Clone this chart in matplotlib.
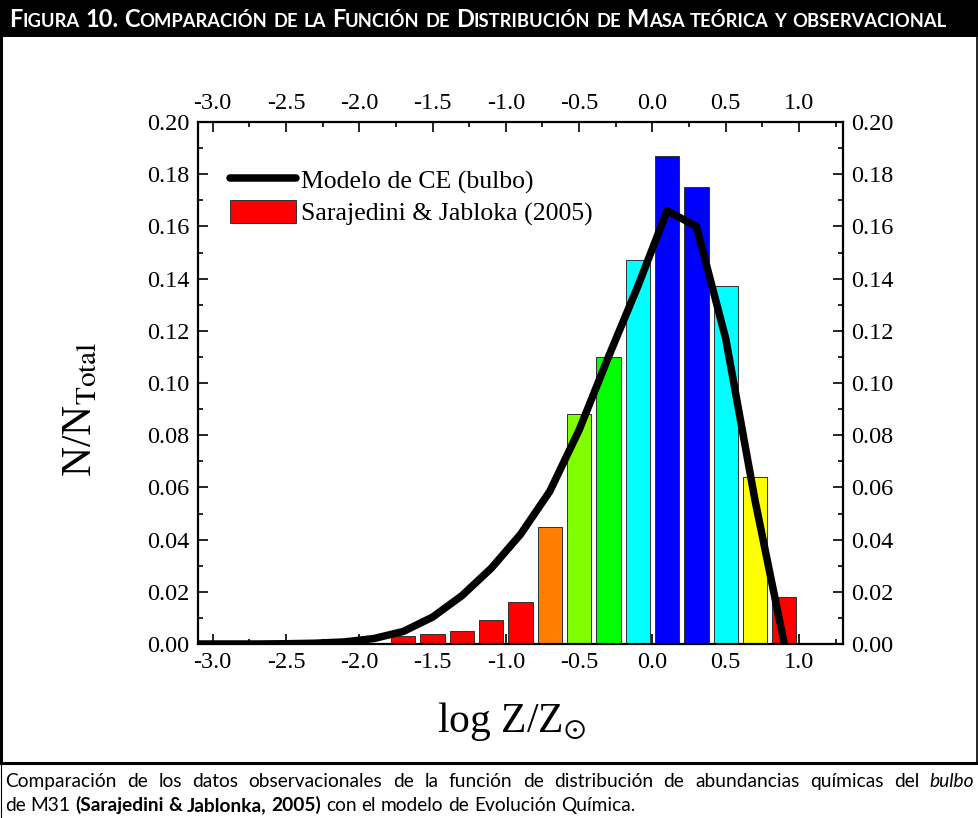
import matplotlib
matplotlib.use("Agg")
import matplotlib.pyplot as plt
from matplotlib.transforms import IdentityTransform
from matplotlib.lines import Line2D
from matplotlib.patches import Patch, Rectangle
from matplotlib.ticker import MultipleLocator, FormatStrFormatter

W, H, DPI = 979, 818, 100

# Observed metallicity distribution (Sarajedini & Jablonka 2005), 0.2 dex bins
bin_centers = [-1.7, -1.5, -1.3, -1.1, -0.9, -0.7, -0.5, -0.3, -0.1, 0.1, 0.3, 0.5, 0.7, 0.9]
obs_fraction = [0.0032, 0.0040, 0.0051, 0.0092, 0.0161, 0.0449, 0.0881,
                0.110, 0.147, 0.187, 0.175, 0.137, 0.064, 0.018]
bar_colors = ["#ff0000", "#ff0000", "#ff0000", "#ff0000", "#ff0000", "#ff8000",
              "#80ff00", "#00ff00", "#00ffff", "#0000ff", "#0000ff", "#00ffff",
              "#ffff00", "#ff0000"]

# Chemical evolution model for the bulge
model_logz = [-3.1, -2.9, -2.7, -2.5, -2.3, -2.1, -1.9, -1.7, -1.5, -1.3, -1.1,
              -0.9, -0.7, -0.5, -0.3, -0.1, 0.1, 0.3, 0.5, 0.7, 0.9]
model_fraction = [0.0, 0.0, 0.0, 0.0001, 0.0003, 0.0008, 0.0021, 0.0048, 0.0103,
                  0.0185, 0.0290, 0.0420, 0.0585, 0.0820, 0.1100, 0.1370, 0.1660,
                  0.1600, 0.1170, 0.0550, 0.0]

x_ticks = [-3.0, -2.5, -2.0, -1.5, -1.0, -0.5, 0.0, 0.5, 1.0]
y_ticks = [0.00, 0.02, 0.04, 0.06, 0.08, 0.10, 0.12, 0.14, 0.16, 0.18, 0.20]

header_text = ("Figura 10. Comparación de la Función de Distribución de Masa "
               "teórica y observacional")
caption_line1 = [("Comparación de los datos observacionales de la función de "
                  "distribución de abundancias químicas del ", "normal", "normal"),
                 ("bulbo", "normal", "italic")]
caption_line2 = [("de M31 ", "normal", "normal"),
                 ("(Sarajedini & Jablonka, 2005)", "bold", "normal"),
                 (" con el modelo de Evolución Química.", "normal", "normal")]

plt.rcParams["font.family"] = ["Liberation Serif", "DejaVu Serif"]
plt.rcParams["mathtext.fontset"] = "stix"

fig = plt.figure(figsize=(W / DPI, H / DPI), dpi=DPI)
fig.patch.set_facecolor("white")

# axes box in pixels: left 198, right 843, top 122, bottom 644
ax = fig.add_axes([198 / W, (H - 644) / H, (843 - 198) / W, (644 - 122) / H])

ax.bar(bin_centers, obs_fraction, width=0.165, color=bar_colors,
       edgecolor="#303030", linewidth=0.7, zorder=2)
ax.plot(model_logz, model_fraction, color="black", lw=5.4,
        solid_capstyle="round", solid_joinstyle="round", zorder=3)

ax.set_xlim(-3.1, 1.3)
ax.set_ylim(0.0, 0.20)
ax.set_xticks(x_ticks)
ax.set_yticks(y_ticks)
ax.xaxis.set_minor_locator(MultipleLocator(0.25))
ax.yaxis.set_minor_locator(MultipleLocator(0.01))
ax.xaxis.set_major_formatter(FormatStrFormatter("%.1f"))
ax.yaxis.set_major_formatter(FormatStrFormatter("%.2f"))
ax.tick_params(which="both", direction="in", top=True, right=True,
               labeltop=True, labelright=True, width=1.2, labelsize=17.5, pad=6)
ax.tick_params(which="major", length=7)
ax.tick_params(which="minor", length=3.5)
for sp in ax.spines.values():
    sp.set_linewidth(1.6)

ax.set_xlabel(r"log Z/Z$_{\odot}$", fontsize=30)
ax.xaxis.set_label_coords(0.487, -0.108, transform=ax.transAxes)
ax.xaxis.label.set_va("top")
ax.set_ylabel(r"N/N$_{\mathrm{Total}}$", fontsize=30)
ax.yaxis.set_label_coords(-0.152, 0.45, transform=ax.transAxes)

handles = [Line2D([], [], color="black", lw=5.4, solid_capstyle="round"),
           Patch(facecolor="#ff0000", edgecolor="#303030", linewidth=0.7)]
labels = ["Modelo de CE (bulbo)", "Sarajedini & Jabloka (2005)"]
ax.legend(handles, labels, loc="upper left", bbox_to_anchor=(0.05, 0.912),
          frameon=False, fontsize=18.5, handlelength=2.55, handleheight=1.0,
          handletextpad=0.2, labelspacing=0.25, borderpad=0.0, borderaxespad=0.0)

# page frame: header bar, side rules and caption separator
fig.patches.append(Rectangle((0, 1 - 37 / H), 1, 37 / H, transform=fig.transFigure,
                             facecolor="black", edgecolor="none", zorder=0))
fig.lines.append(Line2D([1.5 / W, 1.5 / W], [(H - 763) / H, 1 - 37 / H],
                        transform=fig.transFigure, color="black", lw=2.2))
fig.lines.append(Line2D([0.5 / W, 0.5 / W], [0, (H - 763) / H],
                        transform=fig.transFigure, color="black", lw=0.8))
fig.lines.append(Line2D([977.5 / W, 977.5 / W], [(H - 763) / H, 1 - 37 / H],
                        transform=fig.transFigure, color="black", lw=1.2))
fig.lines.append(Line2D([0, 1], [(H - 763) / H, (H - 763) / H],
                        transform=fig.transFigure, color="black", lw=2.2))

renderer = fig.canvas.get_renderer()
ident = IdentityTransform()


def text_width(s, **kw):
    t = fig.text(0, 0, s, transform=ident, **kw)
    w = t.get_window_extent(renderer).width
    t.remove()
    return w


def space_width(**kw):
    return text_width("a a", **kw) - text_width("aa", **kw)


def small_caps_runs(s, big, small):
    runs = []
    for ch in s:
        if ch == " ":
            runs.append((" ", big))
        elif ch.islower():
            runs.append((ch.upper(), small))
        else:
            runs.append((ch, big))
    merged = []
    for ch, size in runs:
        if merged and merged[-1][1] == size and ch != " " and merged[-1][0][-1] != " ":
            merged[-1] = (merged[-1][0] + ch, size)
        else:
            merged.append((ch, size))
    return merged


def draw_small_caps(s, x0, y, target_width, big, small, **kw):
    def layout(scale, draw):
        x = x0
        for piece, size in small_caps_runs(s, big * scale, small * scale):
            if piece == " ":
                x += space_width(fontsize=size, **kw)
                continue
            if draw:
                fig.text(x, y, piece, transform=ident, fontsize=size,
                         va="baseline", ha="left", **kw)
            x += text_width(piece, fontsize=size, **kw)
        return x - x0
    w = layout(1.0, False)
    layout(target_width / w, True)


def draw_runs(runs, x0, y, size, family, justify_to=None):
    """Lay out styled runs word by word; optionally stretch spaces to a width."""
    words = []
    for s, weight, style in runs:
        kw = dict(fontsize=size, fontweight=weight, fontstyle=style, family=family)
        parts = s.split(" ")
        for i, p in enumerate(parts):
            if p:
                words.append(("w", p, kw))
            if i < len(parts) - 1:
                words.append(("s", None, kw))
    widths = [text_width(p, **kw) if k == "w" else space_width(**kw)
              for k, p, kw in words]
    n_space = sum(1 for k, _, _ in words if k == "s")
    extra = 0.0
    if justify_to is not None and n_space:
        extra = max(0.0, (justify_to - sum(widths)) / n_space)
    x = x0
    for (k, p, kw), w in zip(words, widths):
        if k == "w":
            fig.text(x, y, p, transform=ident, va="baseline", ha="left", **kw)
            x += w
        else:
            x += w + extra
    return x - x0


draw_small_caps(header_text, 9, H - 27, 932, 13.5, 10.5,
                color="white", fontweight="bold", family=["Lato", "DejaVu Sans"])

cap_family = ["Lato", "DejaVu Sans"]
cap_size = 13.8
draw_runs(caption_line1, 5, H - 787, cap_size, cap_family, justify_to=969)
draw_runs(caption_line2, 5, H - 811, cap_size, cap_family)

fig.savefig("out.png", dpi=DPI, facecolor="white")
